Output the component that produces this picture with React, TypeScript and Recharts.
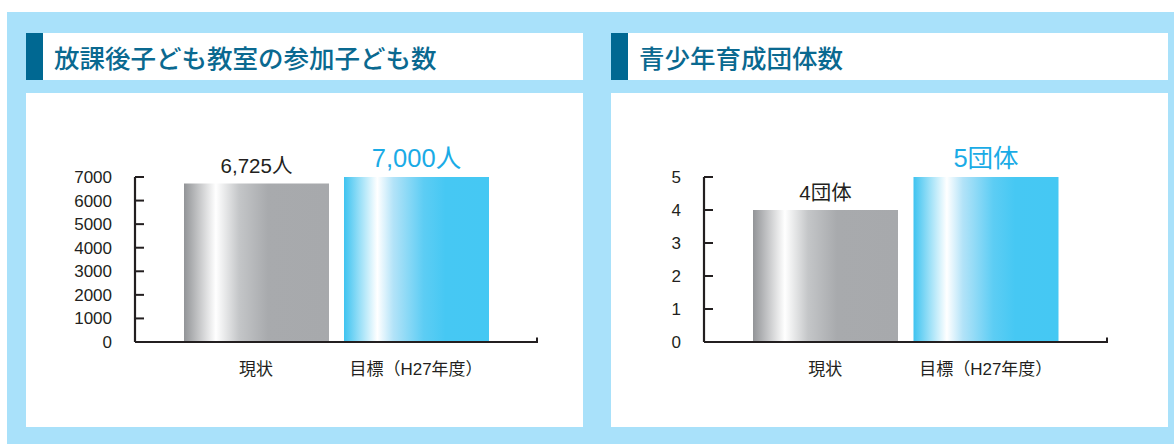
import { BarChart, Bar, XAxis, YAxis, Cell, LabelList } from "recharts";

const categories = ["現状", "目標（H27年度）"];

const childValues = [6725, 7000];
const childLabels = ["6,725人", "7,000人"];
const childTicks = [0, 1000, 2000, 3000, 4000, 5000, 6000, 7000];

const groupValues = [4, 5];
const groupLabels = ["4団体", "5団体"];
const groupTicks = [0, 1, 2, 3, 4, 5];

const BG_BLUE = "#a9e1fa";
const DARK = "#006892";
const TITLE = "#0a6990";
const INK = "#231f20";
const FONT = '"Liberation Sans", "Noto Sans CJK JP", sans-serif';

const PANEL_W = 557;
const PANEL_H = 334;
const TOP = 84;
const AXIS_H = 85;

const labelStyles = [
  { fill: INK, fontSize: 20.5 },
  { fill: "#1aabe6", fontSize: 25.5 },
];

function YTick(props: any) {
  const { x, y, payload } = props;
  return (
    <g>
      <text x={x} y={y} dy="0.355em" textAnchor="end" fill={INK} fontSize={17} fontFamily={FONT}>
        {payload.value}
      </text>
      <line x1={x + 23} x2={x + 32} y1={y} y2={y} stroke={INK} strokeWidth={2} />
    </g>
  );
}

function ValueLabel(props: any) {
  const { x, y, width, value, index } = props;
  const s = labelStyles[index] ?? labelStyles[0];
  return (
    <text
      x={Number(x) + Number(width) / 2}
      y={Number(y) - 10}
      textAnchor="middle"
      fill={s.fill}
      fontSize={s.fontSize}
      fontFamily={FONT}
    >
      {value}
    </text>
  );
}

function Panel({ left, title, values, labels, ticks, yWidth, right, prefix }: any) {
  const data = categories.map((name, i) => ({ name, value: values[i], label: labels[i] }));
  const max = ticks[ticks.length - 1];
  const endX = PANEL_W - right;
  const endY = PANEL_H - AXIS_H;
  return (
    <div style={{ position: "absolute", left, top: 0, width: PANEL_W, height: 444 }}>
      <div
        style={{
          position: "absolute",
          top: 33,
          left: 0,
          width: PANEL_W,
          height: 47,
          background: "#fff",
        }}
      >
        <div style={{ position: "absolute", left: 0, top: 0, width: 17, height: 47, background: DARK }} />
        <div
          style={{
            position: "absolute",
            left: 28,
            top: 0,
            lineHeight: "47px",
            fontSize: 25.5,
            fontWeight: 500,
            color: TITLE,
            fontFamily: '"Noto Sans CJK JP", sans-serif',
            whiteSpace: "nowrap",
          }}
        >
          {title}
        </div>
      </div>
      <div style={{ position: "absolute", top: 93, left: 0, width: PANEL_W, height: PANEL_H, background: "#fff" }}>
        <BarChart width={PANEL_W} height={PANEL_H} data={data} margin={{ top: TOP, right, bottom: 0, left: 0 }}>
          <defs>
            <linearGradient id={prefix + "gray"} x1="0" y1="0" x2="1" y2="0">
              <stop offset="0%" stopColor="#929497" />
              <stop offset="22%" stopColor="#ffffff" />
              <stop offset="38%" stopColor="#c4c6c8" />
              <stop offset="58%" stopColor="#a8aaad" />
              <stop offset="100%" stopColor="#a7a9ac" />
            </linearGradient>
            <linearGradient id={prefix + "blue"} x1="0" y1="0" x2="1" y2="0">
              <stop offset="0%" stopColor="#3ec3f0" />
              <stop offset="23%" stopColor="#ffffff" />
              <stop offset="34%" stopColor="#b3e3f8" />
              <stop offset="55%" stopColor="#5dcdf4" />
              <stop offset="70%" stopColor="#46c8f3" />
              <stop offset="100%" stopColor="#45c8f3" />
            </linearGradient>
          </defs>
          <XAxis
            dataKey="name"
            type="category"
            height={AXIS_H}
            padding={{ left: 41, right: 41 }}
            tickLine={false}
            tickMargin={15}
            interval={0}
            axisLine={{ stroke: INK, strokeWidth: 2.2 }}
            tick={{ fill: INK, fontSize: 17, fontFamily: FONT }}
          />
          <YAxis
            type="number"
            width={yWidth}
            domain={[0, max]}
            ticks={ticks}
            interval={0}
            tickLine={false}
            tickSize={0}
            tickMargin={23}
            axisLine={{ stroke: INK, strokeWidth: 2.2 }}
            tick={<YTick />}
          />
          <Bar dataKey="value" barSize={145} isAnimationActive={false}>
            {data.map((d, i) => (
              <Cell key={d.name} fill={`url(#${prefix}${i === 0 ? "gray" : "blue"})`} />
            ))}
            <LabelList dataKey="label" content={<ValueLabel />} />
          </Bar>
        </BarChart>
        <svg
          width={PANEL_W}
          height={PANEL_H}
          style={{ position: "absolute", left: 0, top: 0, pointerEvents: "none" }}
        >
          <line x1={endX} x2={endX} y1={endY - 4.5} y2={endY + 1.1} stroke={INK} strokeWidth={2} />
        </svg>
      </div>
    </div>
  );
}

export default function App() {
  return (
    <div
      style={{
        position: "absolute",
        left: 0,
        top: 0,
        width: 1174,
        height: 444,
        background: "#fff",
        overflow: "hidden",
        fontFamily: FONT,
      }}
    >
      <div style={{ position: "absolute", left: 7, top: 12, right: 0, bottom: 0, background: BG_BLUE }} />
      <Panel
        left={26}
        title="放課後子ども教室の参加子ども数"
        values={childValues}
        labels={childLabels}
        ticks={childTicks}
        yWidth={109}
        right={46}
        prefix="c"
      />
      <Panel
        left={611}
        title="青少年育成団体数"
        values={groupValues}
        labels={groupLabels}
        ticks={groupTicks}
        yWidth={93}
        right={61}
        prefix="g"
      />
    </div>
  );
}
